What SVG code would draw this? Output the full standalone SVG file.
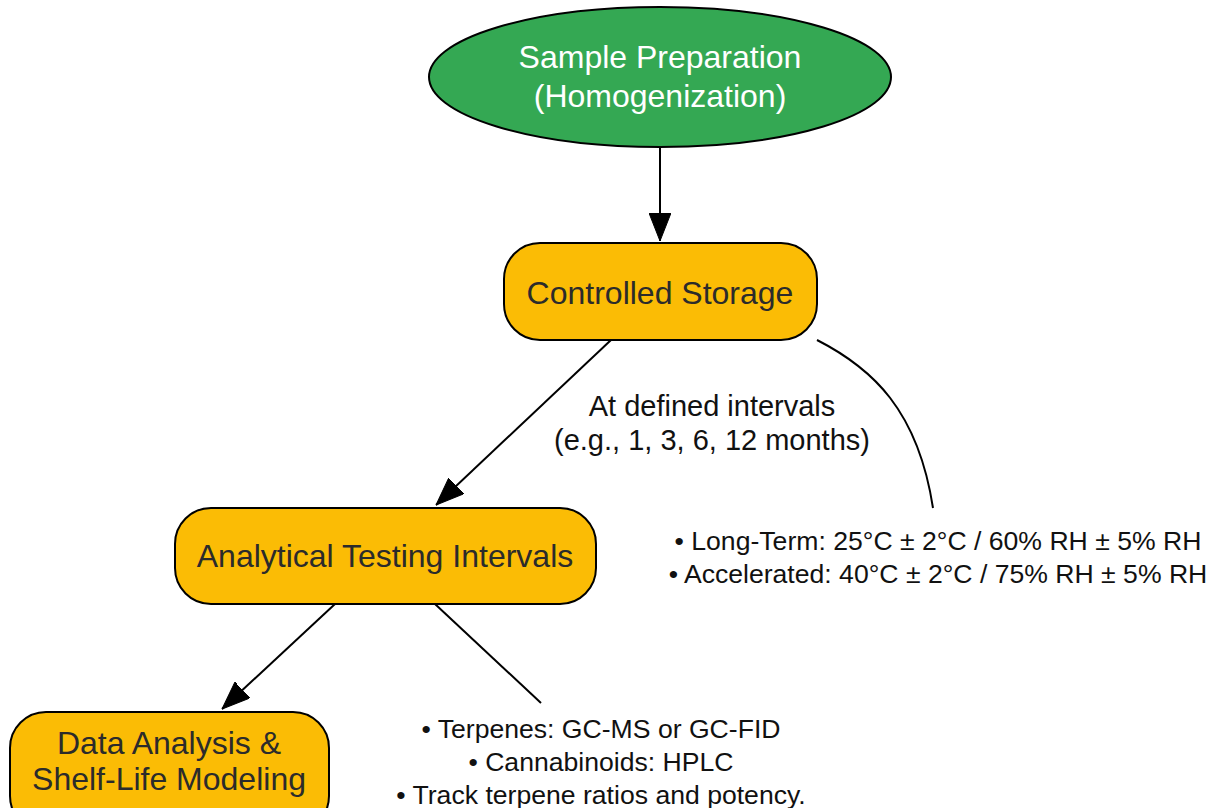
<svg xmlns="http://www.w3.org/2000/svg" width="1210" height="808" viewBox="0 0 1210 808">
<defs>
<style>
.node-y{fill:#fbbc05;stroke:#000;stroke-width:2}
.node-g{fill:#34a853;stroke:#000;stroke-width:2}
.nt{font-family:"Liberation Sans",Arial,sans-serif;font-size:32px;fill:#2b2b2b;text-anchor:middle}
.nw{font-family:"Liberation Sans",Arial,sans-serif;font-size:32px;fill:#ffffff;text-anchor:middle}
.el{font-family:"Liberation Sans",Arial,sans-serif;font-size:29px;fill:#111;text-anchor:middle}
.bl{font-family:"Liberation Sans",Arial,sans-serif;font-size:26.6px;fill:#111;text-anchor:middle}
.edge{fill:none;stroke:#000;stroke-width:2}
</style>
<marker id="arrow" viewBox="0 0 28 22" refX="28" refY="11" markerWidth="28" markerHeight="22" markerUnits="userSpaceOnUse" orient="auto">
<path d="M0,0 L28,11 L0,22 Z" fill="#000" stroke="#000" stroke-width="1"/>
</marker>
</defs>
<rect width="1210" height="808" fill="#ffffff"/>
<g id="connectors">
<path class="edge" d="M660,147 L660,241" marker-end="url(#arrow)"/>
<path class="edge" d="M611,340 L436,505" marker-end="url(#arrow)"/>
<path class="edge" d="M817,340 C872,368 918,410 933,508"/>
<path class="edge" d="M335,604 L222,709" marker-end="url(#arrow)"/>
<path class="edge" d="M435,604 L541,703"/>
</g>
<g id="node-sample-prep">
<ellipse class="node-g" cx="660" cy="77" rx="231" ry="70"/>
<text class="nw" x="660" y="68">Sample Preparation</text>
<text class="nw" x="660" y="107">(Homogenization)</text>
</g>
<g id="node-controlled-storage">
<rect class="node-y" x="504" y="243" width="313" height="97" rx="36" ry="36"/>
<text class="nt" x="660" y="304">Controlled Storage</text>
</g>
<g id="node-analytical-testing">
<rect class="node-y" x="175" y="508" width="421" height="96" rx="36" ry="36"/>
<text class="nt" x="385" y="567">Analytical Testing Intervals</text>
</g>
<g id="node-data-analysis">
<rect class="node-y" x="10" y="712" width="319" height="120" rx="36" ry="36"/>
<text class="nt" x="169" y="754">Data Analysis &amp;</text>
<text class="nt" x="169" y="790">Shelf-Life Modeling</text>
</g>
<g id="label-intervals">
<text class="el" x="712" y="416">At defined intervals</text>
<text class="el" x="712" y="450">(e.g., 1, 3, 6, 12 months)</text>
</g>
<g id="label-storage-conditions">
<text class="bl" x="938" y="550">• Long-Term: 25°C ± 2°C / 60% RH ± 5% RH</text>
<text class="bl" x="938" y="583">• Accelerated: 40°C ± 2°C / 75% RH ± 5% RH</text>
</g>
<g id="label-testing-methods">
<text class="bl" x="601" y="738">• Terpenes: GC-MS or GC-FID</text>
<text class="bl" x="601" y="771">• Cannabinoids: HPLC</text>
<text class="bl" x="601" y="804">• Track terpene ratios and potency.</text>
</g>
</svg>
